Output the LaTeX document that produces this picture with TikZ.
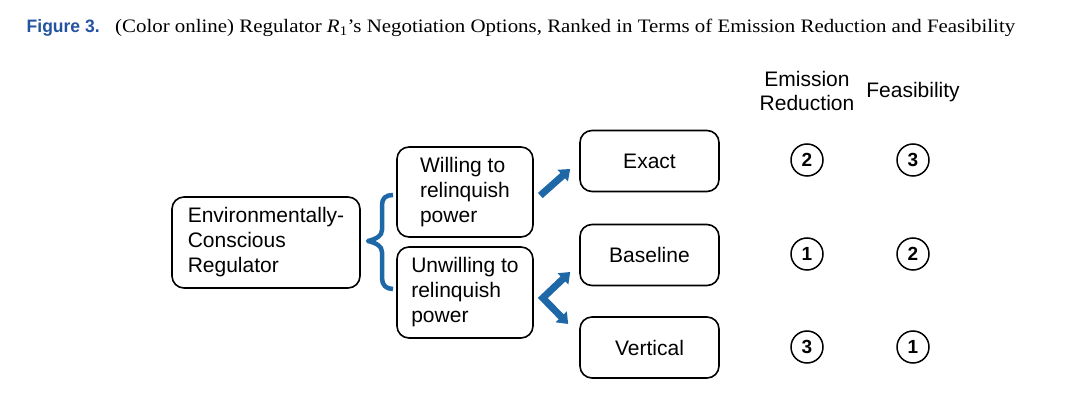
\documentclass[tikz,border=0pt]{standalone}
\usepackage{fontspec}
\usepackage{graphicx}
\setmainfont{Liberation Sans}
\newfontfamily\capserif{Liberation Serif}
\usetikzlibrary{arrows.meta,calc}
\definecolor{figblue}{RGB}{36,84,160}
\definecolor{arrblue}{RGB}{31,104,168}
\begin{document}
\begin{tikzpicture}[x=1pt,y=-1pt,
  box/.style={draw, line width=1.6pt, rounded corners=12pt, align=left,
    font=\fontsize{21}{25}\selectfont, inner sep=0pt},
  rank/.style={draw, circle, line width=1.5pt, minimum size=32pt, inner sep=0pt,
    font=\fontsize{19}{19}\selectfont\bfseries},
  head/.style={align=center, font=\fontsize{21}{24}\selectfont, inner sep=0pt},
  bigarrow/.style={draw=arrblue, line width=7pt, -{Triangle[length=10pt,width=15pt]}, line join=miter},
  bigchev/.style={draw=arrblue, line width=7pt, {Triangle[length=10pt,width=15pt]}-{Triangle[length=10pt,width=15pt]}, line join=miter}]
\useasboundingbox (0,0) rectangle (1082,403);
% caption
\node[anchor=base west, inner sep=0pt, text=figblue] (fig) at (26.5,33)
  {\fontsize{18}{20}\selectfont\resizebox{73pt}{\height}{\bfseries Figure 3.}};
\node[anchor=base west, inner sep=0pt] (captext) at (115,33)
  {\fontsize{19}{22}\selectfont\resizebox{900pt}{\height}{\capserif (Color online) Regulator \textit{R}\textsubscript{1}’s Negotiation Options, Ranked in Terms of Emission Reduction and Feasibility}};
% boxes
\node[box, minimum width=188pt, minimum height=91pt] (env) at (266,242.5) {Environmentally-\\Conscious\\Regulator};
\node[box, minimum width=136pt, minimum height=90pt] (will) at (465,192) {Willing to\\relinquish\\power};
\node[box, minimum width=136pt, minimum height=91pt] (unw) at (465,292.5) {Unwilling to\\relinquish\\power};
\node[box, minimum width=139pt, minimum height=61pt] (exact) at (649.5,161) {Exact};
\node[box, minimum width=139pt, minimum height=61pt] (base) at (649.5,255) {Baseline};
\node[box, minimum width=139pt, minimum height=61pt] (vert) at (649.5,347.5) {Vertical};
% headers
\node[head] (h1) at (807,91) {Emission\\Reduction};
\node[head] (h2) at (913,92) {Feasibility};
% ranks
\node[rank] (e1) at (807,160) {2};
\node[rank] (f1) at (913,160) {3};
\node[rank] (e2) at (807,254) {1};
\node[rank] (f2) at (913,254) {2};
\node[rank] (e3) at (807,347) {3};
\node[rank] (f3) at (913,347) {1};
% brace
\draw[arrblue, line width=4.5pt, line join=round]
  (393,195) .. controls (386,195) and (382,198) .. (382,205)
  -- (382,230) .. controls (382,236) and (376,239) .. (368,241)
  .. controls (376,243) and (382,246) .. (382,252)
  -- (382,278) .. controls (382,285) and (386,289) .. (393,289);
% arrows
\coordinate (a1s) at ($(will.east)+(6.5,3.5)$);
\coordinate (a1e) at ($(exact.west)+(-9,8)$);
\draw[bigarrow] (a1s) -- (a1e);
\coordinate (cv) at ($(unw.east)+(9,5.5)$);
\coordinate (cu) at ($(base.west)+(-9,17)$);
\coordinate (cd) at ($(vert.west)+(-11,-23.5)$);
\draw[bigchev] (cu) -- (cv) -- (cd);
\end{tikzpicture}
\end{document}
